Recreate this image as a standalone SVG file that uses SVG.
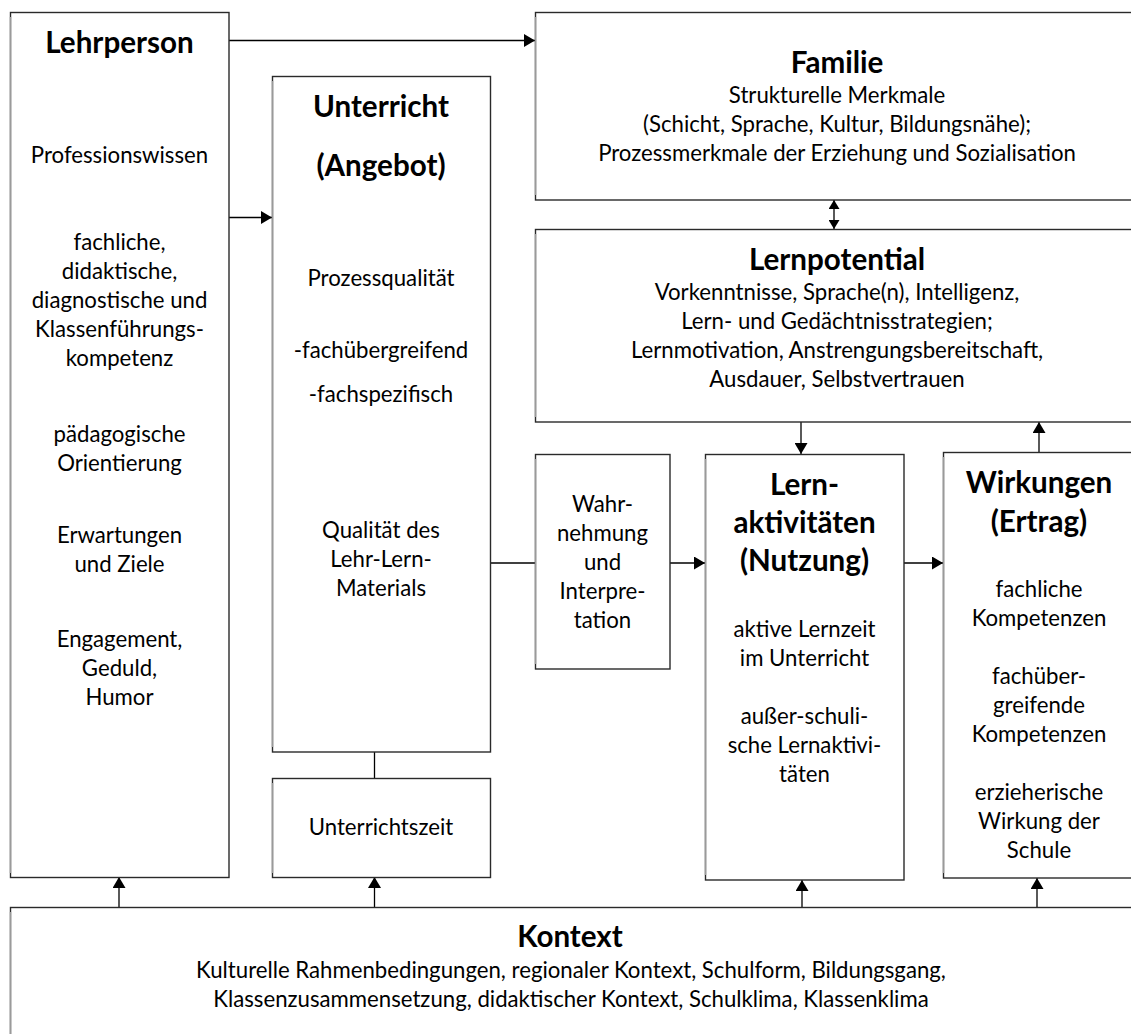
<svg xmlns="http://www.w3.org/2000/svg" width="1131" height="1034" viewBox="0 0 1131 1034">
  <style>
    .box { fill: #ffffff; stroke: #2a2a2a; stroke-width: 1.4; }
    .edge { stroke: #9a9a9a; stroke-width: 1.4; fill: none; }
    .t { font-family: Lato, "Liberation Sans", sans-serif; font-size: 22.2px; fill: #000; text-anchor: middle; }
    .h { font-family: Lato, "Liberation Sans", sans-serif; font-size: 29.6px; font-weight: bold; fill: #000; text-anchor: middle; }
    .ln { stroke: #000; stroke-width: 1.3; fill: none; }
  </style>
  <defs>
    <marker id="arr" viewBox="0 0 11 13" refX="11" refY="6.5" markerWidth="11" markerHeight="13" markerUnits="userSpaceOnUse" orient="auto-start-reverse">
      <path d="M0,0 L11,6.5 L0,13 Z" fill="#000"/>
    </marker>
    <marker id="arrs" viewBox="0 0 9 11" refX="9" refY="5.5" markerWidth="9" markerHeight="11" markerUnits="userSpaceOnUse" orient="auto-start-reverse">
      <path d="M0,0 L9,5.5 L0,11 Z" fill="#000"/>
    </marker>
  </defs>
  <rect width="1131" height="1034" fill="#ffffff"/>

  <!-- connectors -->
  <g id="connectors">
    <line class="ln" x1="229" y1="40.5" x2="535" y2="40.5" marker-end="url(#arr)"/>
    <line class="ln" x1="229" y1="217.5" x2="272" y2="217.5" marker-end="url(#arr)"/>
    <line class="ln" x1="834" y1="200" x2="834" y2="229" marker-start="url(#arrs)" marker-end="url(#arrs)"/>
    <line class="ln" x1="801" y1="422" x2="801" y2="454" marker-end="url(#arr)"/>
    <line class="ln" x1="1039" y1="452" x2="1039" y2="422" marker-end="url(#arr)"/>
    <line class="ln" x1="490" y1="563" x2="535" y2="563"/>
    <line class="ln" x1="670" y1="563" x2="705" y2="563" marker-end="url(#arr)"/>
    <line class="ln" x1="904" y1="563" x2="943" y2="563" marker-end="url(#arr)"/>
    <line class="ln" x1="374.5" y1="752" x2="374.5" y2="778"/>
    <line class="ln" x1="119" y1="907" x2="119" y2="877" marker-end="url(#arr)"/>
    <line class="ln" x1="374.5" y1="907" x2="374.5" y2="877" marker-end="url(#arr)"/>
    <line class="ln" x1="802" y1="907" x2="802" y2="880" marker-end="url(#arr)"/>
    <line class="ln" x1="1037" y1="907" x2="1037" y2="878" marker-end="url(#arr)"/>
  </g>

  <g id="lehrperson">
    <rect class="box" x="10.5" y="12.5" width="218.5" height="865"/>
    <path class="edge" d="M10.5,17 V873"/>
    <text class="h" x="119.5" y="53">Lehrperson</text>
    <text class="t" x="119.5" y="163">Professionswissen</text>
    <text class="t" x="119.5" y="250">fachliche,</text>
    <text class="t" x="119.5" y="279">didaktische,</text>
    <text class="t" x="119.5" y="308">diagnostische und</text>
    <text class="t" x="119.5" y="337">Klassenführungs-</text>
    <text class="t" x="119.5" y="366">kompetenz</text>
    <text class="t" x="119.5" y="442">pädagogische</text>
    <text class="t" x="119.5" y="471">Orientierung</text>
    <text class="t" x="119.5" y="543">Erwartungen</text>
    <text class="t" x="119.5" y="572">und Ziele</text>
    <text class="t" x="119.5" y="647">Engagement,</text>
    <text class="t" x="119.5" y="676">Geduld,</text>
    <text class="t" x="119.5" y="705">Humor</text>
  </g>

  <g id="unterricht">
    <rect class="box" x="272.5" y="76.5" width="218" height="675.5"/>
    <path class="edge" d="M272.5,81 V747"/>
    <text class="h" x="381" y="117">Unterricht</text>
    <text class="h" x="381" y="176">(Angebot)</text>
    <text class="t" x="381" y="286">Prozessqualität</text>
    <text class="t" x="381" y="358">-fachübergreifend</text>
    <text class="t" x="381" y="402">-fachspezifisch</text>
    <text class="t" x="381" y="538">Qualität des</text>
    <text class="t" x="381" y="567">Lehr-Lern-</text>
    <text class="t" x="381" y="596">Materials</text>
  </g>

  <g id="unterrichtszeit">
    <rect class="box" x="272.5" y="778.5" width="218" height="99"/>
    <path class="edge" d="M272.5,783 V873"/>
    <text class="t" x="381" y="835">Unterrichtszeit</text>
  </g>

  <g id="familie">
    <rect class="box" x="535.5" y="12.5" width="610" height="187.5"/>
    <path class="edge" d="M535.5,17 V195"/>
    <text class="h" x="837" y="73">Familie</text>
    <text class="t" x="837" y="103">Strukturelle Merkmale</text>
    <text class="t" x="837" y="132">(Schicht, Sprache, Kultur, Bildungsnähe);</text>
    <text class="t" x="837" y="161">Prozessmerkmale der Erziehung und Sozialisation</text>
  </g>

  <g id="lernpotential">
    <rect class="box" x="535.5" y="229.5" width="610" height="192.5"/>
    <path class="edge" d="M535.5,234 V417"/>
    <text class="h" x="837" y="270">Lernpotential</text>
    <text class="t" x="837" y="300">Vorkenntnisse, Sprache(n), Intelligenz,</text>
    <text class="t" x="837" y="329">Lern- und Gedächtnisstrategien;</text>
    <text class="t" x="837" y="358">Lernmotivation, Anstrengungsbereitschaft,</text>
    <text class="t" x="837" y="387">Ausdauer, Selbstvertrauen</text>
  </g>

  <g id="wahrnehmung">
    <rect class="box" x="535.5" y="454.5" width="134.5" height="214.5"/>
    <path class="edge" d="M535.5,459 V664"/>
    <text class="t" x="602.5" y="512">Wahr-</text>
    <text class="t" x="602.5" y="541">nehmung</text>
    <text class="t" x="602.5" y="570">und</text>
    <text class="t" x="602.5" y="599">Interpre-</text>
    <text class="t" x="602.5" y="628">tation</text>
  </g>

  <g id="lernaktivitaeten">
    <rect class="box" x="705.5" y="454.5" width="198.5" height="425.5"/>
    <path class="edge" d="M705.5,459 V875"/>
    <text class="h" x="804.5" y="495">Lern-</text>
    <text class="h" x="804.5" y="533">aktivitäten</text>
    <text class="h" x="804.5" y="571">(Nutzung)</text>
    <text class="t" x="804.5" y="637">aktive Lernzeit</text>
    <text class="t" x="804.5" y="666">im Unterricht</text>
    <text class="t" x="804.5" y="724">außer-schuli-</text>
    <text class="t" x="804.5" y="753">sche Lernaktivi-</text>
    <text class="t" x="804.5" y="782">täten</text>
  </g>

  <g id="wirkungen">
    <rect class="box" x="943.5" y="452.5" width="192" height="425.5"/>
    <path class="edge" d="M943.5,457 V873"/>
    <text class="h" x="1039" y="493">Wirkungen</text>
    <text class="h" x="1039" y="532">(Ertrag)</text>
    <text class="t" x="1039" y="597">fachliche</text>
    <text class="t" x="1039" y="626">Kompetenzen</text>
    <text class="t" x="1039" y="684">fachüber-</text>
    <text class="t" x="1039" y="713">greifende</text>
    <text class="t" x="1039" y="742">Kompetenzen</text>
    <text class="t" x="1039" y="800">erzieherische</text>
    <text class="t" x="1039" y="829">Wirkung der</text>
    <text class="t" x="1039" y="858">Schule</text>
  </g>

  <g id="kontext">
    <rect class="box" x="10.5" y="907.5" width="1140" height="140"/>
    <path class="edge" d="M10.5,912 V1034"/>
    <text class="h" x="570" y="947">Kontext</text>
    <text class="t" x="571" y="978">Kulturelle Rahmenbedingungen, regionaler Kontext, Schulform, Bildungsgang,</text>
    <text class="t" x="571" y="1007">Klassenzusammensetzung, didaktischer Kontext, Schulklima, Klassenklima</text>
  </g>
</svg>
